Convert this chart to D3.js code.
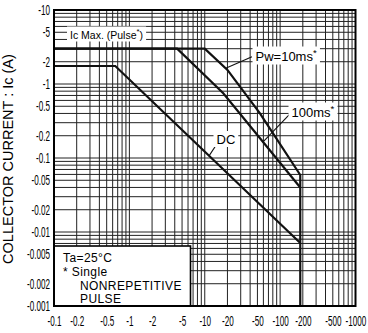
<!DOCTYPE html>
<html>
<head>
<meta charset="utf-8">
<script src="https://cdn.jsdelivr.net/npm/d3@7"></script>
<style>
  body { margin: 0; background: #fff; }
  text { font-family: "Liberation Sans", Arial, sans-serif; fill: #000; }
</style>
</head>
<body>
<div id="chart"></div>
<script>
var width = 368,
    height = 333;

// tick labels (magnitudes, drawn with a minus sign)
var xTicks = [0.1, 0.2, 0.5, 1, 2, 5, 10, 20, 50, 100, 200, 500, 1000];
var yTicks = [10, 5, 2, 1, 0.5, 0.2, 0.1, 0.05, 0.02, 0.01, 0.005, 0.002, 0.001];

// safe operating area curves (|Vce| in V, |Ic| in A)
var dcV    = [0.1, 0.65, 185];
var dcI    = [1.75, 1.75, 0.0071];
var pw10V  = [0.1, 10, 20, 54, 185, 185];
var pw10I  = [3, 3, 1.55, 0.4, 0.059, 0.001];
var pw100V = [0.1, 4.3, 17.6, 185];
var pw100I = [3, 3, 0.75, 0.04];

var svg = d3.select("#chart")
    .append("svg")
    .attr("width", width)
    .attr("height", height);

var x = d3.scaleLog().domain([0.1, 1000]).range([54, 355.5]);
var y = d3.scaleLog().domain([0.001, 10]).range([306, 10]);

// grid
svg.append("g").selectAll("line")
    .data(x.ticks())
    .enter().append("line")
    .attr("x1", d => x(d)).attr("x2", d => x(d))
    .attr("y1", y(10)).attr("y2", y(0.001))
    .attr("stroke", "#222").attr("stroke-width", 1);

svg.append("g").selectAll("line")
    .data(y.ticks())
    .enter().append("line")
    .attr("y1", d => y(d)).attr("y2", d => y(d))
    .attr("x1", x(0.1)).attr("x2", x(1000))
    .attr("stroke", "#222").attr("stroke-width", 1);

// axes
var sx = 0.58;
var xAxis = svg.append("g")
    .attr("transform", "translate(0," + y(0.001) + ")")
    .call(d3.axisBottom(x).tickValues(xTicks).tickFormat(d => "-" + d).tickSize(0).tickPadding(10.5));
var yAxis = svg.append("g")
    .attr("transform", "translate(" + x(0.1) + ",0)")
    .call(d3.axisLeft(y).tickValues(yTicks).tickFormat(d => "-" + d).tickSize(0));
[xAxis, yAxis].forEach(function(a) {
  a.select(".domain").remove();
  a.selectAll("text")
    .attr("font-size", 14)
    .attr("font-family", "Liberation Sans, Arial, sans-serif")
    .attr("fill", "#000")
    .attr("transform", "scale(" + sx + ",1)");
});
yAxis.selectAll("text").attr("x", -4 / sx);

// curves
var line = d3.line()
    .x(d => x(d[0]))
    .y(d => y(d[1]));

[[dcV, dcI], [pw10V, pw10I], [pw100V, pw100I]].forEach(function(c) {
  svg.append("path")
    .attr("d", line(d3.zip(c[0], c[1])))
    .attr("fill", "none")
    .attr("stroke", "#111")
    .attr("stroke-width", 2.2)
    .attr("stroke-linejoin", "miter");
});

// labels with white backing
function label(px, py, txt, star, size) {
  var g = svg.append("g");
  var t = g.append("text")
    .attr("x", px).attr("y", py)
    .attr("font-size", size);
  t.append("tspan").text(txt);
  if (star) {
    t.append("tspan").text("*").attr("font-size", size * 0.75).attr("dy", -5);
    if (star === "mid") t.append("tspan").text(")").attr("dy", 5);
  }
  var b = t.node().getBBox();
  g.insert("rect", "text")
    .attr("x", b.x - 3).attr("y", b.y - 0.5)
    .attr("width", b.width + 6).attr("height", b.height + 1)
    .attr("fill", "#fff");
  return g;
}

function leader(p1, p2) {
  svg.append("line")
    .attr("x1", x(p1[0])).attr("y1", y(p1[1]))
    .attr("x2", x(p2[0])).attr("y2", y(p2[1]))
    .attr("stroke", "#111").attr("stroke-width", 1.1);
}

leader([19, 1.63], [42.3, 2.34]);
leader([59, 0.164], [143.5, 0.42]);
leader([11.4, 0.107], [14.7, 0.158]);

label(70, 39, "Ic Max. (Pulse", "mid", 10.5);
label(255.5, 61, "Pw=10ms", true, 13);
label(291.5, 117, "100ms", true, 13);
label(216.5, 143.5, "DC", false, 13);

// note box
var nb = svg.append("g");
nb.append("rect")
  .attr("x", x(0.1)).attr("y", 246)
  .attr("width", 190.5 - x(0.1)).attr("height", y(0.001) - 246)
  .attr("fill", "#fff").attr("stroke", "#000").attr("stroke-width", 1.6);
var notes = [["Ta=25°C", 63, 261.5], ["* Single", 63, 275.5], ["NONREPETITIVE", 80, 289.5], ["PULSE", 80, 303]];
nb.selectAll("text.note")
  .data(notes)
  .enter().append("text")
  .attr("class", "note")
  .attr("x", d => d[1]).attr("y", d => d[2])
  .attr("font-size", 12)
  .attr("letter-spacing", 0.4)
  .text(d => d[0]);

// frame
svg.append("rect")
  .attr("x", x(0.1)).attr("y", y(10))
  .attr("width", x(1000) - x(0.1)).attr("height", y(0.001) - y(10))
  .attr("fill", "none").attr("stroke", "#000").attr("stroke-width", 2);

// y title
svg.append("text")
  .attr("transform", "translate(12.7,159) rotate(-90)")
  .attr("text-anchor", "middle")
  .attr("font-size", 14.5)
  .text("COLLECTOR CURRENT : Ic (A)");
</script>
</body>
</html>
